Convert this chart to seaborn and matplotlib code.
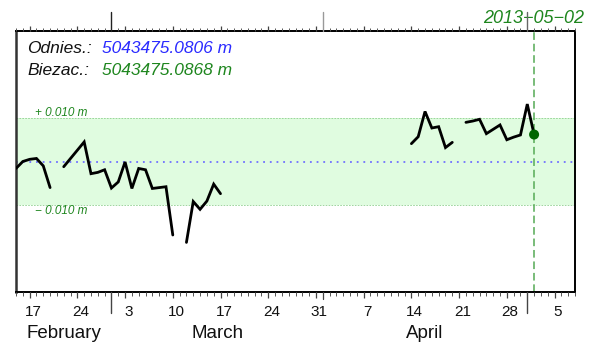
import numpy as np
import pandas as pd
import matplotlib
matplotlib.use("Agg")
import matplotlib.pyplot as plt
import matplotlib.dates as mdates
import seaborn as sns

# Daily coordinate offsets from the reference value, in millimetres (NaN = no solution)
start_date = "2013-02-15"
offset_mm = [
    -1.6, 0.0, 0.5, 0.7, -1.0, -6.0, np.nan,
    -1.2, 0.7, 2.6, 4.5, -2.8, -2.5, -1.9, -6.1, -4.7, -0.1, -6.2, -1.6, -1.9,
    -6.2, -6.0, -5.8, -16.9, np.nan,
    -18.6, -9.2, -11.0, -9.1, -5.2, -7.4,
] + [np.nan] * 27 + [
    4.1, 5.7, 11.5, 7.7, 8.0, 3.2, 4.4, np.nan,
    9.0, 9.3, 9.7, 6.4, 7.4, 8.4, 5.0, 5.6, 6.1, 13.2, 6.2,
]

reference_value = "5043475.0806 m"
current_value = "5043475.0868 m"
band_limit = 0.010
current_day = "2013-05-02"
view_start, view_end = "2013-02-15", "2013-05-08"

day_label_dates = ["2013-02-17", "2013-02-24", "2013-03-03", "2013-03-10",
                   "2013-03-17", "2013-03-24", "2013-03-31", "2013-04-07",
                   "2013-04-14", "2013-04-21", "2013-04-28", "2013-05-05"]
month_names = ["February", "March", "April"]
month_label_dates = ["2013-02-22", "2013-03-16 12:00", "2013-04-16"]
month_starts = ["2013-03-01", "2013-04-01", "2013-05-01"]

GREEN_TXT = "#1e861e"
BLUE_TXT = "#2a2aff"

sns.set_style("white")
plt.rcParams["font.family"] = ["Liberation Sans", "DejaVu Sans"]

dates = pd.date_range(start_date, periods=len(offset_mm), freq="D")
df = pd.DataFrame({"date": dates, "offset": np.array(offset_mm) / 1000.0})
df["segment"] = df["offset"].isna().cumsum()
df = df.dropna()

W, H = 589, 344
fig = plt.figure(figsize=(W / 100, H / 100), dpi=100)
left, right, top, bottom = 16, 575, 31, 292
ax = fig.add_axes([left / W, 1 - bottom / H, (right - left) / W, (bottom - top) / H])

# tolerance band and zero line
ax.axhspan(-band_limit, band_limit, color="#e0fce0", lw=0, zorder=0)
for v in (-band_limit, band_limit):
    ax.axhline(v, color="#8fcf8f", lw=0.6, ls=(0, (2, 1.5)), zorder=1)
ax.axhline(0, color="#7070ff", lw=1.3, ls=(0, (1, 2.7)), zorder=1)

sns.lineplot(data=df, x="date", y="offset", units="segment", estimator=None,
             color="black", lw=2.0, ax=ax, legend=False, zorder=3,
             solid_joinstyle="miter")

cur = pd.Timestamp(current_day)
ax.axvline(cur, color="#55aa55", lw=1.1, ls=(0, (5, 2.5)), zorder=2)
last = df[df["date"] == cur]
sns.scatterplot(data=last, x="date", y="offset", color="#006600", s=52,
                edgecolor="none", ax=ax, zorder=4, legend=False)

x0, x1 = pd.Timestamp(view_start), pd.Timestamp(view_end)
ax.set_xlim(x0, x1)
ax.set_ylim(-0.030, 0.030)
ax.set_xlabel("")
ax.set_ylabel("")
ax.set_yticks([])
ax.set_xticks([])

for s in ax.spines.values():
    s.set_visible(True)
    s.set_color("black")
    s.set_linewidth(1.4)
ax.spines["left"].set_color("#333333")
ax.spines["left"].set_linewidth(1.8)

# time-axis tick marks: daily, weekly (Sundays) and month boundaries
xt = ax.get_xaxis_transform()
axh = bottom - top
px = 1.0 / axh
days = pd.date_range(x0, x1, freq="D")
day_nums = mdates.date2num(days.to_pydatetime())
sun_nums = mdates.date2num(days[days.dayofweek == 6].to_pydatetime())


def tick_marks(xs, length, color, lw):
    for xv in xs:
        ax.plot([xv, xv], [0, -length * px], transform=xt, color=color, lw=lw,
                clip_on=False, solid_capstyle="butt", zorder=5)
        ax.plot([xv, xv], [1, 1 + length * px], transform=xt, color=color, lw=lw,
                clip_on=False, solid_capstyle="butt", zorder=5)


tick_marks(day_nums, 3.5, "#555555", 0.7)
tick_marks(sun_nums, 5.5, "#444444", 0.9)

for d in ["2013-03-01", "2013-05-01"]:
    xv = mdates.date2num(pd.Timestamp(d).to_pydatetime())
    ax.plot([xv, xv], [0, -21 * px], transform=xt, color="#444444", lw=1.0,
            clip_on=False, zorder=5)
xv = mdates.date2num(pd.Timestamp("2013-04-01").to_pydatetime())
ax.plot([xv, xv], [0, -7 * px], transform=xt, color="#444444", lw=0.9,
        clip_on=False, zorder=5)
for d, c in zip(month_starts, ["#222222", "#999999", "#666666"]):
    xv = mdates.date2num(pd.Timestamp(d).to_pydatetime())
    ax.plot([xv, xv], [1, 1 + 19 * px], transform=xt, color=c, lw=1.0,
            clip_on=False, zorder=5)
ax.set_xlim(x0, x1)

# day and month labels
for d in day_label_dates:
    t = pd.Timestamp(d) + pd.Timedelta(hours=12)
    ax.annotate(str(t.day), xy=(t, 0), xycoords=("data", "axes fraction"),
                xytext=(0, -24.5), textcoords="offset pixels",
                ha="center", va="baseline", fontsize=11, color="#111111")
for name, d in zip(month_names, month_label_dates):
    ax.annotate(name, xy=(pd.Timestamp(d), 0), xycoords=("data", "axes fraction"),
                xytext=(0, -46), textcoords="offset pixels",
                ha="center", va="baseline", fontsize=13.5, color="#111111")

# current epoch label
ax.annotate("2013\u221205\u221202", xy=(cur, 1), xycoords=("data", "axes fraction"),
            xytext=(0, 8), textcoords="offset pixels", ha="center", va="baseline",
            fontsize=13, style="italic", color=GREEN_TXT, annotation_clip=False)

# band limit labels
ax.annotate("+ 0.010 m", xy=(19 / (right - left), band_limit),
            xycoords=("axes fraction", "data"), xytext=(0, 2.5),
            textcoords="offset pixels", ha="left", va="baseline",
            fontsize=8.5, style="italic", color=GREEN_TXT)
ax.annotate("\u2212 0.010 m", xy=(19 / (right - left), -band_limit),
            xycoords=("axes fraction", "data"), xytext=(0, -9),
            textcoords="offset pixels", ha="left", va="baseline",
            fontsize=8.5, style="italic", color=GREEN_TXT)

# coordinate summary
fig.text(27 / W, 1 - 53 / H, "Odnies.:", fontsize=12.5, style="italic",
         color="#111111", va="baseline")
fig.text(102 / W, 1 - 53 / H, reference_value, fontsize=12.5, style="italic",
         color=BLUE_TXT, va="baseline")
fig.text(27 / W, 1 - 75 / H, "Biezac.:", fontsize=12.5, style="italic",
         color="#111111", va="baseline")
fig.text(102 / W, 1 - 75 / H, current_value, fontsize=12.5, style="italic",
         color=GREEN_TXT, va="baseline")

fig.savefig("out.png", dpi=100)
